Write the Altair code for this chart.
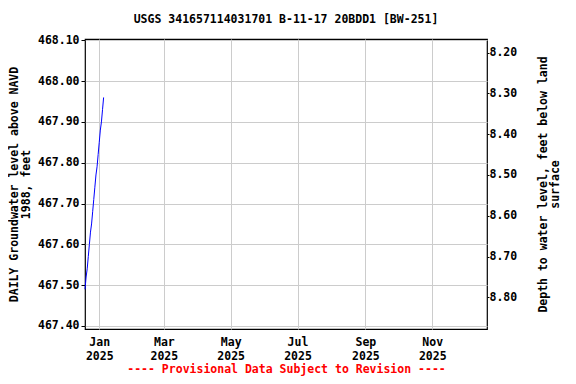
import altair as alt
import pandas as pd

title_text = "USGS 341657114031701 B-11-17 20BDD1 [BW-251]"
dates = ["2024-12-19", "2024-12-20", "2024-12-21", "2024-12-22", "2024-12-23",
         "2024-12-24", "2024-12-25", "2024-12-26", "2024-12-27", "2024-12-28",
         "2024-12-29", "2024-12-30", "2024-12-31", "2025-01-01", "2025-01-02",
         "2025-01-03", "2025-01-04", "2025-01-05"]
levels = [467.49, 467.52, 467.54, 467.57, 467.60, 467.63, 467.65, 467.68,
          467.71, 467.74, 467.77, 467.79, 467.82, 467.85, 467.88, 467.90,
          467.93, 467.96]
land_offset = 476.27  # elevation + depth
left_ticks = [467.40, 467.50, 467.60, 467.70, 467.80, 467.90, 468.00, 468.10]
right_ticks = [8.20, 8.30, 8.40, 8.50, 8.60, 8.70, 8.80]
month_ticks = [(2025, 1), (2025, 3), (2025, 5), (2025, 7), (2025, 9), (2025, 11)]
left_domain = [467.3926, 468.1032]
right_domain = [round(land_offset - left_domain[1], 4), round(land_offset - left_domain[0], 4)]
x_domain = [alt.DateTime(year=2024, month=12, date=19, utc=True),
            alt.DateTime(year=2025, month=12, date=21, utc=True)]

df = pd.DataFrame({"date": dates, "level": levels})
df["depth"] = land_offset - df["level"]

FONT = "DejaVu Sans Mono"

x_enc = alt.X(
    "date:T",
    scale=alt.Scale(type="utc", domain=x_domain, nice=False),
    axis=alt.Axis(
        values=[alt.DateTime(year=y, month=m, date=1, utc=True) for y, m in month_ticks],
        labelExpr="[utcFormat(datum.value, '%b'), utcFormat(datum.value, '%Y')]",
        title="---- Provisional Data Subject to Revision ----",
        titleColor="red", titleFont=FONT, titleFontSize=11.5, titleFontWeight="bold",
        titlePadding=2,
        labelFont=FONT, labelFontSize=11.5, labelFontWeight="bold", labelColor="black",
        labelPadding=7, labelLineHeight=14,
        grid=True, gridColor="#cccccc", tickSize=0, domain=False,
    ),
)

base = alt.Chart(df)

left = base.mark_line(color="blue", strokeWidth=1).encode(
    x=x_enc,
    y=alt.Y(
        "level:Q",
        scale=alt.Scale(domain=left_domain, nice=False, zero=False),
        axis=alt.Axis(
            values=left_ticks, format=".2f",
            title=["DAILY Groundwater level above NAVD", "1988, feet"],
            titleFont=FONT, titleFontSize=11.5, titleFontWeight="bold",
            titlePadding=6, titleLineHeight=12,
            labelFont=FONT, labelFontSize=11.5, labelFontWeight="bold", labelColor="black",
            grid=True, gridColor="#cccccc", tickSize=4, tickColor="black",
            labelPadding=2, domain=False,
        ),
    ),
)

right = base.mark_line(strokeOpacity=0).encode(
    x=x_enc,
    y=alt.Y(
        "depth:Q",
        scale=alt.Scale(domain=right_domain, reverse=True, nice=False, zero=False),
        axis=alt.Axis(
            orient="right", values=right_ticks, format=".2f",
            title=["Depth to water level, feet below land", "surface"],
            titleAngle=270, titleBaseline="bottom",
            titleFont=FONT, titleFontSize=11.5, titleFontWeight="bold",
            titlePadding=20, titleLineHeight=12,
            labelFont=FONT, labelFontSize=11.5, labelFontWeight="bold", labelColor="black",
            grid=False, tickSize=2, tickColor="black", labelPadding=0, domain=False,
        ),
    ),
)

chart = alt.layer(left, right).resolve_scale(y="independent").properties(
    width=402, height=290,
    title=alt.TitleParams(title_text, font=FONT, fontSize=11.5, fontWeight="bold",
                          anchor="middle", offset=9),
    autosize=alt.AutoSizeParams(type="none"),
    padding={"left": 77, "top": 31, "right": 80, "bottom": 47},
).configure_view(stroke="black", strokeWidth=1.2)

chart.save("out.html", embed_options={"renderer": "svg", "actions": False})
